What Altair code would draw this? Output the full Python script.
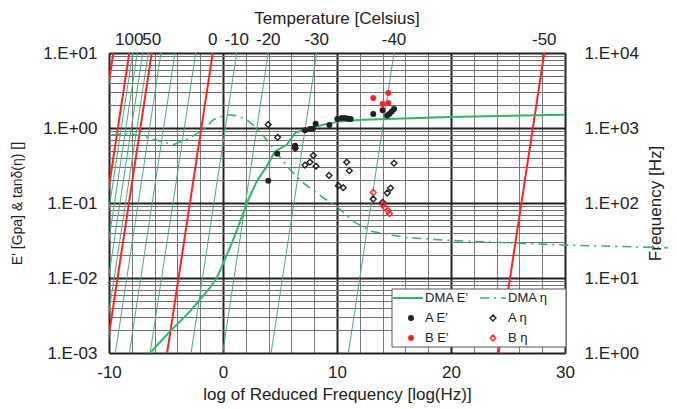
import altair as alt
import pandas as pd
import numpy as np

# ---------------- data ----------------
# DMA storage modulus master curve (solid green)
dma_e_x = [-6.40, -4.65, -2.89, -2.02, -1.14, -0.55, 0.03, 0.90, 1.78, 2.22, 2.96,
           3.83, 4.56, 5.59, 6.32, 7.04, 8.80, 10.26, 12.31, 19.9, 30.0]
dma_e_y = [0.001, 0.00194, 0.00359, 0.00514, 0.00743, 0.0100, 0.0158, 0.0324, 0.0736,
           0.111, 0.194, 0.308, 0.488, 0.598, 0.857, 0.948, 1.107, 1.225, 1.291, 1.403, 1.503]

# DMA eta master curve (dash-dot green)
dma_eta_x = [-9.8, -8.16, -6.99, -4.36, -2.89, -1.73, -0.85, 0.32, 1.20, 2.08, 2.96,
             3.83, 4.71, 5.88, 7.04, 8.80, 9.97, 11.5, 13.0, 16.0, 20.0, 30.0, 39.2]
dma_eta_y = [0.813, 0.839, 0.773, 0.598, 0.736, 0.948, 1.291, 1.503, 1.459, 1.291, 1.0,
             0.698, 0.465, 0.278, 0.185, 0.117, 0.0902, 0.056, 0.042, 0.0347, 0.0316,
             0.0275, 0.0253]

# Sample A, E' (black filled circles)
a_e_x = [3.97, 4.76, 6.32, 6.35, 7.19, 7.63, 7.87, 8.13, 9.33, 10.03, 10.41, 10.70,
         10.99, 11.20, 13.18, 14.0, 14.41, 14.6, 14.8, 15.0]
a_e_y = [0.198, 0.454, 0.58, 0.54, 0.93, 0.97, 0.98, 1.14, 1.10, 1.32, 1.36, 1.36,
         1.33, 1.32, 1.54, 1.72, 1.47, 1.55, 1.66, 1.79]

# Sample B, E' (red filled circles)
b_e_x = [13.18, 14.0, 14.5, 14.5]
b_e_y = [2.51, 2.09, 2.93, 2.15]

# Sample A, eta (black open diamonds)
a_eta_x = [3.97, 4.79, 6.32, 7.19, 7.63, 7.92, 8.16, 9.30, 10.12, 10.55, 10.85, 11.08,
           13.18, 14.0, 14.41, 14.7, 15.0]
a_eta_y = [1.11, 0.75, 0.54, 0.32, 0.35, 0.43, 0.31, 0.233, 0.17, 0.16, 0.35, 0.27,
           0.113, 0.102, 0.136, 0.158, 0.34]

# Sample B, eta (red open diamonds)
b_eta_x = [13.18, 14.04, 14.2, 14.5, 14.6]
b_eta_y = [0.138, 0.095, 0.087, 0.079, 0.072]

# Isotherms: log shift factor (reduced log frequency at 1 Hz)
iso_red_shift = [-13.62, -12.22, -10.25, -4.90, 24.18]
iso_green_shift = [-11.92, -11.52, -11.04, -10.55, -9.44, -8.21, -6.39, -2.80, -0.03, 4.22, 11.0]
freq_ends = [1, 10000]

# Top temperature labels (position on the log reduced frequency axis at 10 kHz)
temp_labels = ["100", "50", "0", "-10", "-20", "-30", "-40", "-50"]
temp_pos = [-8.22, -6.25, -0.90, 1.20, 3.97, 8.22, 15.0, 28.18]

x_ticks = list(range(-10, 31, 2))
y_ticks = [k * 10.0 ** d for d in range(-3, 1) for k in range(1, 10)] + [10.0]
f_ticks = [1, 10, 100, 1000, 10000]

# ---------------- styling ----------------
FONT = "Liberation Sans"
GREEN = "#2FB866"
ISO_GREEN = "#4AAA7C"
RED = "#FF2424"
BLACK = "#222222"
W, H = 456, 300

dec_test = "abs(log(datum.value)/LN10 - round(log(datum.value)/LN10)) < 0.001"
dec_label = ("(" + dec_test + ") ? '1.E' + (round(log(datum.value)/LN10) < 0 ? '-' : '+') + '0' "
             "+ abs(round(log(datum.value)/LN10)) : ''")

x_scale = alt.Scale(domain=[-10, 30], nice=False, zero=False)
y_scale = alt.Scale(type="log", domain=[0.001, 10], nice=False)
f_scale = alt.Scale(type="log", domain=[1, 10000], nice=False)

x_axis = alt.Axis(values=x_ticks, labelExpr="datum.value % 10 === 0 ? '' + datum.value : ''",
                  ticks=False, domain=False, labelFontSize=17, labelPadding=11, labelColor=BLACK,
                  labelFlush=False, labelOverlap=False, labelFont=FONT,
                  title="log of Reduced Frequency [log(Hz)]", titleFontSize=17, titleFont=FONT,
                  titleFontWeight="normal", titleColor=BLACK, titleX=W / 2, titleY=41,
                  titleBaseline="middle", titleAlign="center",
                  grid=True,
                  gridColor={"condition": {"test": "datum.value % 10 === 0", "value": "#222222"}, "value": "#777777"},
                  gridWidth={"condition": {"test": "datum.value % 10 === 0", "value": 2}, "value": 1})

y_axis = alt.Axis(orient="left", values=y_ticks, labelExpr=dec_label, ticks=False, domain=False,
                  labelFontSize=17, labelPadding=12, labelColor=BLACK, labelOverlap=False,
                  labelFont=FONT,
                  title="E' [Gpa] & tanδ(η) []", titleFontSize=14, titleFont=FONT,
                  titleFontWeight="normal", titleColor=BLACK, titleX=-92, titleY=H / 2,
                  titleAngle=-90, titleAlign="center", titleBaseline="middle",
                  grid=True,
                  gridColor={"condition": {"test": dec_test, "value": "#222222"}, "value": "#6f6f6f"},
                  gridWidth={"condition": {"test": dec_test, "value": 2}, "value": 1})

f_axis = alt.Axis(orient="right", values=f_ticks, labelExpr=dec_label, ticks=False, domain=False,
                  labelFontSize=17, labelPadding=19, labelColor=BLACK, labelOverlap=False,
                  labelFont=FONT, grid=False,
                  title="Frequency [Hz]", titleFontSize=17, titleFont=FONT,
                  titleFontWeight="normal", titleColor=BLACK, titleX=90, titleY=H / 2,
                  titleAngle=-90, titleAlign="center", titleBaseline="middle")

X = alt.X("x:Q", scale=x_scale, axis=x_axis)

# ---------------- isotherms (right axis) ----------------
def iso_frame(shifts):
    rows = []
    for i, s in enumerate(shifts):
        for f in freq_ends:
            rows.append({"x": s + np.log10(f), "f": f, "line": i})
    return pd.DataFrame(rows)

iso_g = alt.Chart(iso_frame(iso_green_shift)).mark_line(clip=True, color=ISO_GREEN, strokeWidth=1).encode(
    x=X, y=alt.Y("f:Q", scale=f_scale, axis=f_axis), detail="line:N")
iso_r = alt.Chart(iso_frame(iso_red_shift)).mark_line(clip=True, color=RED, strokeWidth=2).encode(
    x=X, y=alt.Y("f:Q", scale=f_scale, axis=f_axis), detail="line:N")
right_group = alt.layer(iso_g, iso_r)

# ---------------- data layers (left axis) ----------------
Y = alt.Y("y:Q", scale=y_scale, axis=y_axis)

def df(xs, ys):
    return pd.DataFrame({"x": xs, "y": ys})

dma_e = alt.Chart(df(dma_e_x, dma_e_y)).mark_line(color=GREEN, strokeWidth=2).encode(x=X, y=Y)
dma_eta = alt.Chart(df(dma_eta_x, dma_eta_y)).mark_line(color=GREEN, strokeWidth=1.6,
                                                        strokeDash=[9, 5, 2, 5]).encode(x=X, y=Y)
a_e = alt.Chart(df(a_e_x, a_e_y)).mark_point(shape="circle", filled=True, color=BLACK, size=36,
                                             opacity=1).encode(x=X, y=Y)
b_e = alt.Chart(df(b_e_x, b_e_y)).mark_point(shape="circle", filled=True, color=RED, size=36,
                                             opacity=1).encode(x=X, y=Y)
a_eta = alt.Chart(df(a_eta_x, a_eta_y)).mark_point(shape="diamond", filled=False, color=BLACK,
                                                   size=34, strokeWidth=1.4, opacity=1).encode(x=X, y=Y)
b_eta = alt.Chart(df(b_eta_x, b_eta_y)).mark_point(shape="diamond", filled=False, color=RED,
                                                   size=34, strokeWidth=1.4, opacity=1).encode(x=X, y=Y)

top_labels = alt.Chart(pd.DataFrame({"x": temp_pos, "t": temp_labels})).mark_text(
    fontSize=17, font=FONT, color=BLACK, align="center", baseline="alphabetic").encode(
    x=X, y=alt.value(-8), text="t:N")

one = pd.DataFrame({"a": [0]})
top_title = alt.Chart(one).mark_text(text="Temperature [Celsius]", fontSize=17, font=FONT,
                                     color=BLACK, align="center", baseline="alphabetic").encode(
    x=alt.value(W / 2), y=alt.value(-29))

# ---------------- legend ----------------
leg = [alt.Chart(one).mark_rect(fill="white", stroke="#555555", strokeWidth=1).encode(
    x=alt.value(283), x2=alt.value(457), y=alt.value(236), y2=alt.value(294))]
leg.append(alt.Chart(one).mark_rule(color=GREEN, strokeWidth=2).encode(
    x=alt.value(284), x2=alt.value(314), y=alt.value(245)))
leg.append(alt.Chart(one).mark_rule(color=GREEN, strokeWidth=1.6, strokeDash=[9, 5, 2, 5]).encode(
    x=alt.value(371), x2=alt.value(397), y=alt.value(245)))
leg.append(alt.Chart(one).mark_point(shape="circle", filled=True, color=BLACK, size=36, opacity=1).encode(
    x=alt.value(302), y=alt.value(265)))
leg.append(alt.Chart(one).mark_point(shape="circle", filled=True, color=RED, size=36, opacity=1).encode(
    x=alt.value(302), y=alt.value(285)))
leg.append(alt.Chart(one).mark_point(shape="diamond", filled=False, color=BLACK, size=34,
                                     strokeWidth=1.4, opacity=1).encode(x=alt.value(384), y=alt.value(265)))
leg.append(alt.Chart(one).mark_point(shape="diamond", filled=False, color=RED, size=34,
                                     strokeWidth=1.4, opacity=1).encode(x=alt.value(384), y=alt.value(285)))
leg_labels = ["DMA E'", "DMA η", "A E'", "A η", "B E'", "B η"]
leg_px = [316, 399, 316, 399, 316, 399]
leg_py = [245, 245, 265, 265, 285, 285]
for lab, px, py in zip(leg_labels, leg_px, leg_py):
    leg.append(alt.Chart(one).mark_text(text=lab, fontSize=13, font=FONT, color=BLACK,
                                        align="left", baseline="middle").encode(
        x=alt.value(px), y=alt.value(py)))

left_group = alt.layer(dma_e, dma_eta, a_e, b_e, a_eta, b_eta, top_labels, top_title, *leg)

chart = alt.layer(right_group, left_group).resolve_scale(y="independent").properties(
    width=W, height=H,
    autosize=alt.AutoSizeParams(type="none"),
    padding={"left": 101, "top": 45, "right": 103, "bottom": 52},
).configure_view(stroke="#222222", strokeWidth=2).configure(font=FONT)

chart.save("out.html", embed_options={"renderer": "svg", "actions": False})
